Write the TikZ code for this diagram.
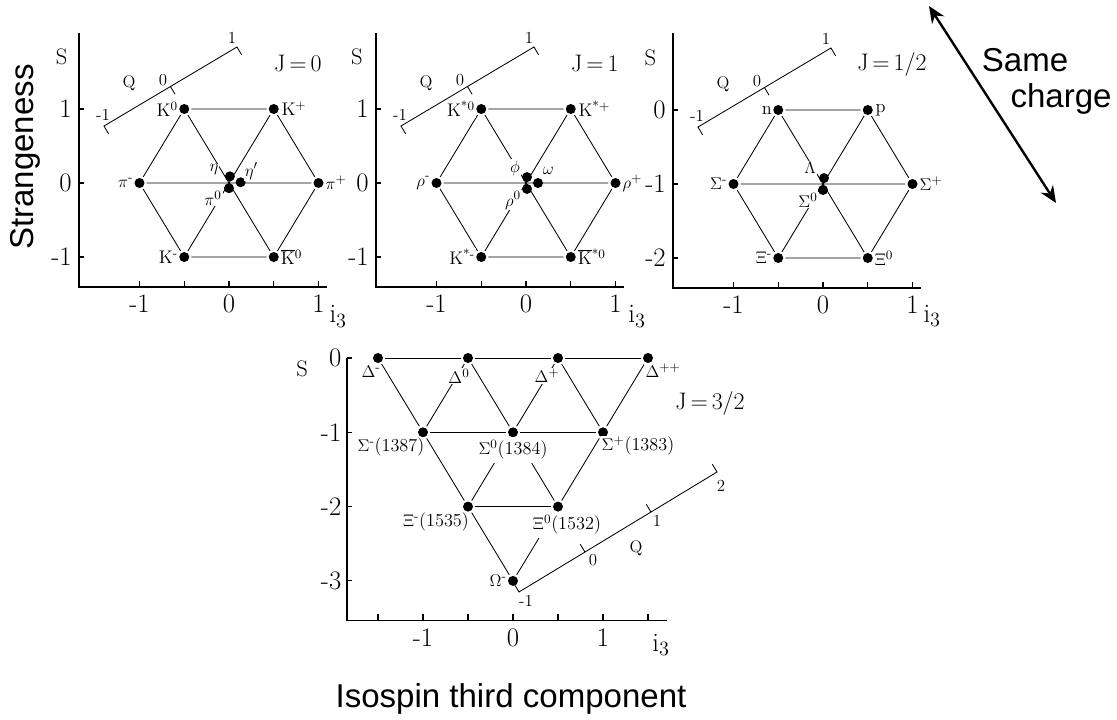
\documentclass[tikz,border=0pt]{standalone}
\usepackage{fontspec}
\newfontfamily\arialfont{Liberation Sans}
\usetikzlibrary{positioning,arrows.meta}

\begin{document}
\begin{tikzpicture}[
  dot/.style={circle, fill=black, inner sep=0pt, minimum size=0.25cm, outer sep=1.5pt},
  edge/.style={line width=0.6pt},
  axis/.style={line width=0.8pt},
  qline/.style={line width=0.6pt},
  ticklab/.style={inner sep=1pt, font=\fontsize{19}{22}\selectfont},
  slab/.style={inner sep=1pt, font=\fontsize{16}{19}\selectfont},
  jlab/.style={inner sep=1pt, font=\fontsize{17}{20}\selectfont},
  partlab/.style={inner sep=0.8pt, fill=white, font=\fontsize{13}{15}\selectfont},
  qlab/.style={inner sep=0.5pt, font=\fontsize{12}{14}\selectfont},
  bigtext/.style={font=\arialfont\fontsize{23.5}{28}\selectfont}
]

\useasboundingbox (0,0) rectangle (27.925,-17.975);

% Titres des axes
\node[bigtext, rotate=90, anchor=base] (strange) at (0.825,-3.925) {Strangeness};
\node[bigtext, anchor=base] (isospin) at (12.775,-17.675) {Isospin third component};
\node[bigtext, anchor=base] (same) at (25.625,-1.775) {Same};
\node[bigtext, anchor=base] (charge) at (26.525,-2.675) {charge};
\coordinate (chtop) at (23.225,-0.15);
\coordinate (chbot) at (26.4,-5.075);
\draw[{Stealth[length=0.42cm,width=0.36cm]}-{Stealth[length=0.42cm,width=0.36cm]}, line width=1.7pt] (chtop) -- (chbot);

% Mesons J = 0
\begin{scope}[shift={(5.725,-4.575)}, x=2.2375cm, y=1.85cm]
\draw[axis] (-1.676,2.03) -- (-1.676,-1.405) -- (1.095,-1.405);
\draw[axis] (-1.676,1) -- ++(0.125cm,0) (-1.676,0) -- ++(0.125cm,0) (-1.676,-1) -- ++(0.125cm,0);
\draw[axis] (-1,-1.405) -- ++(0,0.15cm) (-0.5,-1.405) -- ++(0,0.15cm) (0,-1.405) -- ++(0,0.15cm) (0.5,-1.405) -- ++(0,0.15cm) (1,-1.405) -- ++(0,0.15cm);
\node[ticklab, anchor=east] (ay1a) at (-1.74,1) {1};
\node[ticklab, anchor=east] (ay1b) at (-1.74,0) {0};
\node[ticklab, anchor=east] (ay1c) at (-1.74,-1) {-1};
\node[ticklab, anchor=north] (ax1a) at (-1,-1.49) {-1};
\node[ticklab, anchor=north] (ax1b) at (0,-1.49) {0};
\node[ticklab, anchor=north] (ax1c) at (1,-1.49) {1};
\node[ticklab] (ai1) at (1.22,-1.80) {$\mathrm{i}_3$};
\node[slab] (as1) at (-1.87,1.70) {S};
\node[jlab] (aj1) at (0.77,1.62) {J\,=\,0};

% Axe Q
\coordinate (q1a) at (-1.397,0.770);
\coordinate (q1m) at (-0.654,1.304);
\coordinate (q1b) at (0.089,1.838);
\draw[qline] (q1a) ++(0.115cm,-0.193cm) -- (q1a) -- (q1b) -- ++(0.115cm,-0.193cm) (q1m) -- ++(0.115cm,-0.193cm);
\node[qlab] (q1la) at (-1.408,0.919) {-1};
\node[qlab] (q1lb) at (-0.737,1.392) {0};
\node[qlab] (q1lc) at (0.034,1.96) {1};
\node[qlab] (q1lq) at (-1.117,1.351) {Q};

% Particules
\node[dot] (ka) at (-0.5,1) {};
\node[dot] (kb) at (0.5,1) {};
\node[dot] (pia) at (-1,0) {};
\node[dot] (pib) at (1,0) {};
\node[dot] (kc) at (-0.5,-1) {};
\node[dot] (kd) at (0.5,-1) {};
\node[dot] (eta) at (0.01,0.09) {};
\node[dot] (etap) at (0.13,0.01) {};
\node[dot] (pic) at (0,-0.07) {};

\draw[edge] (ka) -- (kb) (kb) -- (pib) (pib) -- (kd) (kd) -- (kc) (kc) -- (pia) (pia) -- (ka);
\draw[edge] (ka) -- (kd) (kb) -- (kc) (pia) -- (pib);

\node[partlab, left=-1.5pt of ka] (lka) {K\textsuperscript{0}};
\node[partlab, right=-0.5pt of kb] (lkb) {K\textsuperscript{+}};
\node[partlab, left=-1.5pt of pia] (lpia) {$\pi$\textsuperscript{-}};
\node[partlab, right=-1pt of pib] (lpib) {$\pi$\textsuperscript{+}};
\node[partlab, left=-1.5pt of kc] (lkc) {K\textsuperscript{-}};
\node[partlab, right=-1pt of kd] (lkd) {$\overline{\mathrm{K}}$\textsuperscript{0}};
\node[partlab] (leta) at (-0.168,0.176) {$\eta$};
\node[partlab] (letap) at (0.25,0.16) {$\eta'$};
\node[partlab] (lpic) at (-0.179,-0.203) {$\pi$\textsuperscript{0}};
\end{scope}

% Mesons J = 1
\begin{scope}[shift={(13.15,-4.575)}, x=2.2375cm, y=1.85cm]
\draw[axis] (-1.676,2.03) -- (-1.676,-1.405) -- (1.095,-1.405);
\draw[axis] (-1.676,1) -- ++(0.125cm,0) (-1.676,0) -- ++(0.125cm,0) (-1.676,-1) -- ++(0.125cm,0);
\draw[axis] (-1,-1.405) -- ++(0,0.15cm) (-0.5,-1.405) -- ++(0,0.15cm) (0,-1.405) -- ++(0,0.15cm) (0.5,-1.405) -- ++(0,0.15cm) (1,-1.405) -- ++(0,0.15cm);
\node[ticklab, anchor=east] (ay2a) at (-1.74,1) {1};
\node[ticklab, anchor=east] (ay2b) at (-1.74,0) {0};
\node[ticklab, anchor=east] (ay2c) at (-1.74,-1) {-1};
\node[ticklab, anchor=north] (ax2a) at (-1,-1.49) {-1};
\node[ticklab, anchor=north] (ax2b) at (0,-1.49) {0};
\node[ticklab, anchor=north] (ax2c) at (1,-1.49) {1};
\node[ticklab] (ai2) at (1.24,-1.80) {$\mathrm{i}_3$};
\node[slab] (as2) at (-1.89,1.70) {S};
\node[jlab] (aj2) at (0.77,1.62) {J\,=\,1};

% Axe Q
\coordinate (q2a) at (-1.397,0.770);
\coordinate (q2m) at (-0.654,1.304);
\coordinate (q2b) at (0.089,1.838);
\draw[qline] (q2a) ++(0.115cm,-0.193cm) -- (q2a) -- (q2b) -- ++(0.115cm,-0.193cm) (q2m) -- ++(0.115cm,-0.193cm);
\node[qlab] (q2la) at (-1.408,0.919) {-1};
\node[qlab] (q2lb) at (-0.737,1.392) {0};
\node[qlab] (q2lc) at (0.034,1.96) {1};
\node[qlab] (q2lq) at (-1.117,1.351) {Q};

% Particules
\node[dot] (ksa) at (-0.5,1) {};
\node[dot] (ksb) at (0.5,1) {};
\node[dot] (rhoa) at (-1,0) {};
\node[dot] (rhob) at (1,0) {};
\node[dot] (ksc) at (-0.5,-1) {};
\node[dot] (ksd) at (0.5,-1) {};
\node[dot] (phi) at (0.011,0.08) {};
\node[dot] (omg) at (0.134,0) {};
\node[dot] (rhoc) at (0.011,-0.08) {};

\draw[edge] (ksa) -- (ksb) (ksb) -- (rhob) (rhob) -- (ksd) (ksd) -- (ksc) (ksc) -- (rhoa) (rhoa) -- (ksa);
\draw[edge] (ksa) -- (ksd) (ksb) -- (ksc) (rhoa) -- (rhob);

\node[partlab, left=-1.5pt of ksa] (lksa) {K\textsuperscript{*0}};
\node[partlab, right=-0.5pt of ksb] (lksb) {K\textsuperscript{*+}};
\node[partlab, left=-1.5pt of rhoa] (lrhoa) {$\rho$\textsuperscript{-}};
\node[partlab, right=-1pt of rhob] (lrhob) {$\rho$\textsuperscript{+}};
\node[partlab, left=-1.5pt of ksc] (lksc) {K\textsuperscript{*-}};
\node[partlab, right=-1pt of ksd] (lksd) {$\overline{\mathrm{K}}$\textsuperscript{*0}};
\node[partlab] (lphi) at (-0.123,0.203) {$\phi$};
\node[partlab] (lomg) at (0.25,0.16) {$\omega$};
\node[partlab] (lrhoc) at (-0.145,-0.235) {$\rho$\textsuperscript{0}};
\end{scope}

% Baryons J = 1/2
\begin{scope}[shift={(20.575,-2.75)}, x=2.2375cm, y=1.85cm]
\draw[axis] (-1.676,1.04) -- (-1.676,-2.405) -- (1.095,-2.405);
\draw[axis] (-1.676,0) -- ++(0.125cm,0) (-1.676,-1) -- ++(0.125cm,0) (-1.676,-2) -- ++(0.125cm,0);
\draw[axis] (-1,-2.405) -- ++(0,0.15cm) (-0.5,-2.405) -- ++(0,0.15cm) (0,-2.405) -- ++(0,0.15cm) (0.5,-2.405) -- ++(0,0.15cm) (1,-2.405) -- ++(0,0.15cm);
\node[ticklab, anchor=east] (ay3a) at (-1.74,0) {0};
\node[ticklab, anchor=east] (ay3b) at (-1.74,-1) {-1};
\node[ticklab, anchor=east] (ay3c) at (-1.74,-2) {-2};
\node[ticklab, anchor=north] (ax3a) at (-1,-2.49) {-1};
\node[ticklab, anchor=north] (ax3b) at (0,-2.49) {0};
\node[ticklab, anchor=north] (ax3c) at (1,-2.49) {1};
\node[ticklab] (ai3) at (1.22,-2.78) {$\mathrm{i}_3$};
\node[slab] (as3) at (-1.93,0.70) {S};
\node[jlab] (aj3) at (0.77,0.62) {J\,=\,1/2};

% Axe Q
\coordinate (q3a) at (-1.397,-0.230);
\coordinate (q3m) at (-0.654,0.304);
\coordinate (q3b) at (0.089,0.838);
\draw[qline] (q3a) ++(0.115cm,-0.193cm) -- (q3a) -- (q3b) -- ++(0.115cm,-0.193cm) (q3m) -- ++(0.115cm,-0.193cm);
\node[qlab] (q3la) at (-1.408,-0.081) {-1};
\node[qlab] (q3lb) at (-0.737,0.392) {0};
\node[qlab] (q3lc) at (0.034,0.96) {1};
\node[qlab] (q3lq) at (-1.117,0.351) {Q};

% Particules
\node[dot] (nn) at (-0.5,0) {};
\node[dot] (pp) at (0.5,0) {};
\node[dot] (siga) at (-1,-1) {};
\node[dot] (sigb) at (1,-1) {};
\node[dot] (xia) at (-0.5,-2) {};
\node[dot] (xib) at (0.5,-2) {};
\node[dot] (lam) at (0.011,-0.92) {};
\node[dot] (sigc) at (0,-1.081) {};

\draw[edge] (nn) -- (pp) (pp) -- (sigb) (sigb) -- (xib) (xib) -- (xia) (xia) -- (siga) (siga) -- (nn);
\draw[edge] (nn) -- (xib) (pp) -- (xia) (siga) -- (sigb);

\node[partlab, left=-1.5pt of nn] (lnn) {n};
\node[partlab, right=-0.5pt of pp] (lpp) {p};
\node[partlab, left=-1.5pt of siga] (lsiga) {$\Sigma$\textsuperscript{-}};
\node[partlab, right=-1pt of sigb] (lsigb) {$\Sigma$\textsuperscript{+}};
\node[partlab, left=-1.5pt of xia] (lxia) {$\Xi$\textsuperscript{-}};
\node[partlab, right=-1pt of xib] (lxib) {$\Xi$\textsuperscript{0}};
\node[partlab] (llam) at (-0.145,-0.784) {$\Lambda$};
\node[partlab] (lsigc) at (-0.168,-1.216) {$\Sigma$\textsuperscript{0}};
\end{scope}

% Baryons J = 3/2
\begin{scope}[shift={(12.825,-8.95)}, x=2.25cm, y=1.8575cm]
\draw[axis] (-1.844,0) -- (-1.844,-3.53) -- (1.711,-3.53);
\draw[axis] (-1.844,0) -- ++(0.125cm,0) (-1.844,-1) -- ++(0.125cm,0) (-1.844,-2) -- ++(0.125cm,0) (-1.844,-3) -- ++(0.125cm,0);
\draw[axis] (-1.5,-3.53) -- ++(0,0.15cm) (-1,-3.53) -- ++(0,0.15cm) (-0.5,-3.53) -- ++(0,0.15cm) (0,-3.53) -- ++(0,0.15cm) (0.5,-3.53) -- ++(0,0.15cm) (1,-3.53) -- ++(0,0.15cm) (1.5,-3.53) -- ++(0,0.15cm);
\node[ticklab, anchor=east] (ay4a) at (-1.889,0) {0};
\node[ticklab, anchor=east] (ay4b) at (-1.889,-1) {-1};
\node[ticklab, anchor=east] (ay4c) at (-1.889,-2) {-2};
\node[ticklab, anchor=east] (ay4d) at (-1.889,-3) {-3};
\node[ticklab, anchor=north] (ax4a) at (-1,-3.62) {-1};
\node[ticklab, anchor=north] (ax4b) at (0,-3.62) {0};
\node[ticklab, anchor=north] (ax4c) at (1,-3.62) {1};
\node[ticklab] (ai4) at (1.644,-3.863) {$\mathrm{i}_3$};
\node[slab] (as4) at (-2.344,-0.148) {S};
\node[jlab] (aj4) at (2.189,-0.606) {J\,=\,3/2};

% Axe Q
\coordinate (q4a) at (0.067,-3.149);
\coordinate (q4m) at (0.800,-2.611);
\coordinate (q4n) at (1.533,-2.072);
\coordinate (q4b) at (2.267,-1.534);
\draw[qline] (q4a) ++(-0.1175cm,0.1925cm) -- (q4a) -- (q4b) -- ++(-0.1175cm,0.1925cm) (q4m) -- ++(-0.1175cm,0.1925cm) (q4n) -- ++(-0.1175cm,0.1925cm);
\node[qlab] (q4la) at (0.144,-3.27) {-1};
\node[qlab] (q4lb) at (0.889,-2.719) {0};
\node[qlab] (q4lc) at (1.6,-2.194) {1};
\node[qlab] (q4ld) at (2.311,-1.723) {2};
\node[qlab] (q4lq) at (1.367,-2.557) {Q};

% Particules
\node[dot] (dla) at (-1.5,0) {};
\node[dot] (dlb) at (-0.5,0) {};
\node[dot] (dlc) at (0.5,0) {};
\node[dot] (dld) at (1.5,0) {};
\node[dot] (ssa) at (-1,-1) {};
\node[dot] (ssb) at (0,-1) {};
\node[dot] (ssc) at (1,-1) {};
\node[dot] (xsa) at (-0.5,-2) {};
\node[dot] (xsb) at (0.5,-2) {};
\node[dot] (omm) at (0,-3) {};

\draw[edge] (dla) -- (dlb) (dlb) -- (dlc) (dlc) -- (dld) (ssa) -- (ssb) (ssb) -- (ssc) (xsa) -- (xsb);
\draw[edge] (dla) -- (ssa) (ssa) -- (xsa) (xsa) -- (omm) (dlb) -- (ssb) (ssb) -- (xsb) (dlc) -- (ssc);
\draw[edge] (dld) -- (ssc) (ssc) -- (xsb) (xsb) -- (omm) (dlc) -- (ssb) (ssb) -- (xsa) (dlb) -- (ssa);

\node[partlab] (ldla) at (-1.578,-0.188) {$\Delta$\textsuperscript{-}};
\node[partlab] (ldlb) at (-0.6,-0.242) {$\Delta$\textsuperscript{0}};
\node[partlab] (ldlc) at (0.378,-0.242) {$\Delta$\textsuperscript{+}};
\node[partlab] (ldld) at (1.667,-0.175) {$\Delta$\textsuperscript{++}};
\node[partlab] (lssa) at (-1.356,-1.198) {$\Sigma$\textsuperscript{-}(1387)};
\node[partlab, inner ysep=2.5pt] (lssb) at (0,-1.235) {$\Sigma$\textsuperscript{0}(1384)};
\node[partlab] (lssc) at (1.389,-1.184) {$\Sigma$\textsuperscript{+}(1383)};
\node[partlab] (lxsa) at (-0.856,-2.207) {$\Xi$\textsuperscript{-}(1535)};
\node[partlab, inner ysep=2.5pt] (lxsb) at (0.6,-2.245) {$\Xi$\textsuperscript{0}(1532)};
\node[partlab, left=-1.5pt of omm] (lomm) {$\Omega$\textsuperscript{-}};
\end{scope}

\end{tikzpicture}
\end{document}
